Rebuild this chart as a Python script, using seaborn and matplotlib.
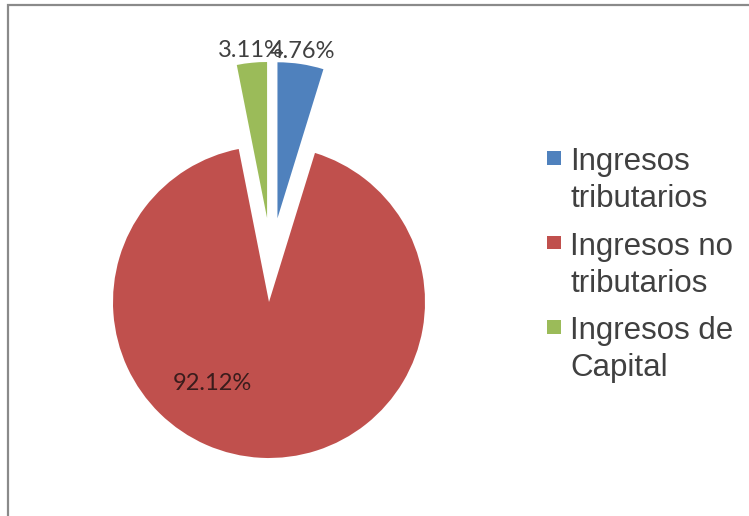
import numpy as np
import matplotlib
matplotlib.use("Agg")
import matplotlib.pyplot as plt
import seaborn as sns
from matplotlib.patches import Rectangle, Wedge
from matplotlib.legend_handler import HandlerPatch

# data
categories = ["Ingresos\ntributarios", "Ingresos no\ntributarios", "Ingresos de\nCapital"]
shares = [4.76, 92.12, 3.11]
colors = ["#4F81BD", "#C0504D", "#9BBB59"]
explode = [0.27, 0.27, 0.27]

sns.set_theme(style="white")
plt.rcParams["font.family"] = ["Liberation Sans", "DejaVu Sans"]

W, H = 749, 516
R = 156.0           # pie radius in pixels
rx, ry = 269, 302   # apex of the big slice, pixels from top-left

# the big slice is pulled out too, so find the true pie centre from it
frac = np.array(shares) / sum(shares)
mid_red = np.deg2rad(90 - 360 * (frac[0] + frac[1] / 2))
cx = rx - explode[1] * R * np.cos(mid_red)
cy = ry + explode[1] * R * np.sin(mid_red)

fig = plt.figure(figsize=(W / 100, H / 100), dpi=100)
fig.patch.set_facecolor("white")

# chart frame (only top/left edges visible in the reference)
fig.add_artist(Rectangle((8 / W, -0.1), 1.2, 1 - 5 / H + 0.1, transform=fig.transFigure,
                         fill=False, edgecolor="#8a8a8a", linewidth=1.6))

ax = fig.add_axes([0, 0, 1, 1])
wedges, texts, autotexts = ax.pie(
    shares, colors=colors, explode=explode, startangle=90, counterclock=False,
    autopct="%.2f%%", pctdistance=1.08, wedgeprops=dict(linewidth=0),
    textprops=dict(fontfamily="Lato", fontsize=17, color="#404040"))
ax.set_xlim(-cx / R, (W - cx) / R)
ax.set_ylim(-(H - cy) / R, cy / R)
ax.set_aspect("auto")
ax.axis("off")

for t, v in zip(autotexts, shares):
    t.set_text(f"{v:.2f}%")

# big slice label sits inside, lower left (Excel best fit)
ang = np.deg2rad(235)
c = wedges[1].center
autotexts[1].set_position((c[0] + 0.635 * np.cos(ang), c[1] + 0.635 * np.sin(ang)))
autotexts[1].set_color("#3a1c1c")
autotexts[0].set_zorder(5)

FS = 22.5


def square_first_line(legend, orig_handle, xdescent, ydescent, width, height, fontsize):
    size = 10
    return Rectangle((-xdescent, -ydescent + 0.63 * fontsize + 3.5), size, size)


leg = fig.legend(wedges, categories, loc="upper left",
                 bbox_to_anchor=(547 / W, 1 - 147 / H), frameon=False,
                 fontsize=FS, handlelength=0.45, handleheight=0.45,
                 handletextpad=0.3, labelspacing=0.55, borderpad=0,
                 borderaxespad=0, labelcolor="#404040",
                 handler_map={Wedge: HandlerPatch(patch_func=square_first_line)})
for t in leg.get_texts():
    t.set_linespacing(1.32)

fig.savefig("out.png", dpi=100, facecolor="white")
